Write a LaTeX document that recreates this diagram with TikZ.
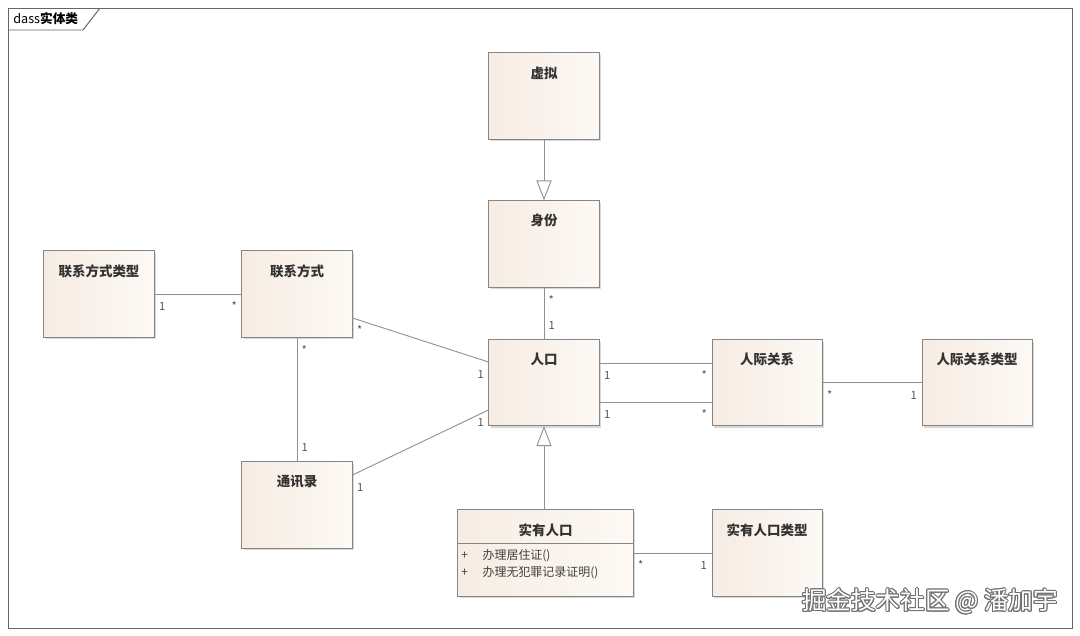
\documentclass[tikz,border=0pt]{standalone}
\usepackage{fontspec}
\setmainfont{Noto Sans CJK SC}
\usepackage{xcolor}
\usepackage{contour}
\usepackage{tikz}
\usetikzlibrary{positioning}
\usetikzlibrary{calc,arrows.meta,shadows}
\definecolor{clsline}{HTML}{858585}
\definecolor{boxL}{HTML}{F6ECE3}
\definecolor{boxR}{HTML}{FDF9F5}
\definecolor{multc}{HTML}{555555}
\contourlength{0.7pt}
\tikzset{
  cls_title/.style = {anchor=center, yshift=-14.5pt, font=\fontsize{9.6}{11}\selectfont\bfseries,
    text=black!80},
  cls/.style = {rectangle, draw=clsline, line width=0.7pt, left color=boxL, right color=boxR,
    minimum width=2.75cm, minimum height=2.15cm, inner sep=0pt,
    drop shadow={shadow xshift=1.5pt, shadow yshift=-1.5pt, fill=black!30},
    label={[cls_title]north:#1}},% boite de classe
  mult/.style = {font=\fontsize{8}{9}\selectfont, text=multc, inner xsep=3pt, inner ysep=2.5pt,
    text height=9pt, text depth=4pt},% multiplicite
  conn/.style = {draw=clsline!90, line width=0.65pt},
  gen/.style = {conn, -{Triangle[open, length=0.5cm, width=0.375cm, fill=white]}}% heritage
}

\begin{document}
\begin{tikzpicture}[x=0.025cm, y=-0.025cm]
\fill[white] (0,0) rectangle (1080,636);
\useasboundingbox (0,0) rectangle (1080,636);
% cadre du diagramme
\draw[black!60, line width=0.7pt] (8,8) rectangle (1072,628);
\draw[black!60, line width=0.7pt] (8,30) -- (83,30) -- (100,8);
\node[anchor=west, font=\fontsize{9}{11}\selectfont, inner sep=0pt] (frame_title) at (13,19)
  {dass\textbf{实体类}};
% classes
\node[cls=虚拟] (xn) at (544,96) {};
\node[cls=身份] (sf) at (544,244) {};
\node[cls=联系方式类型] (lxlx) at (99,294) {};
\node[cls=联系方式] (lxfs) at (297,294) {};
\node[cls=人口] (rk) at (544,382.5) {};
\node[cls=人际关系] (rjgx) at (767,382.5) {};
\node[cls=人际关系类型] (gxlx) at (977,382.5) {};
\node[cls=通讯录] (txl) at (297,505) {};
\node[cls=实有人口, minimum width=4.375cm] (syrk) at (545.5,553) {};
\node[cls=实有人口类型] (sylx) at (767,553) {};
\draw[clsline, line width=0.7pt] ($(syrk.north west)+(0,34)$) -- ($(syrk.north east)+(0,34)$);
\node[anchor=base west, inner sep=0pt, font=\fontsize{8.5}{12}\selectfont, text=black!75] (syrk_ops)
  at (461,559.5) {\begin{tabular}[t]{@{}l@{\hspace{10.5pt}}l@{}}
    + & 办理居住证() \\
    + & 办理无犯罪记录证明()
  \end{tabular}};
% heritage
\draw[gen] (xn.south) -- (sf.north);
\draw[gen] (syrk.north -| rk.south) -- (rk.south);
% associations
\draw[conn] (sf.south) -- node[mult, at start, below right] (m1) {*}
  node[mult, at end, above right] (m2) {1} (rk.north);
\draw[conn] (lxlx.east) -- node[mult, at start, below right] (m3) {1}
  node[mult, at end, below left] (m4) {*} (lxfs.west);
\draw[conn] ($(lxfs.east)+(0,24)$) -- node[mult, at start, below right] (m5) {*}
  node[mult, at end, below left] (m6) {1} ($(rk.west)+(0,-20.5)$);
\draw[conn] (lxfs.south) -- node[mult, at start, below right] (m7) {*}
  node[mult, at end, above right] (m8) {1} (txl.north);
\draw[conn] ($(txl.east)+(0,-30)$) -- node[mult, at start, below right] (m9) {1}
  node[mult, at end, below left] (m10) {1} ($(rk.west)+(0,27.5)$);
\draw[conn] ($(rk.east)+(0,-19.5)$) -- node[mult, at start, below right] (m11) {1}
  node[mult, at end, below left] (m12) {*} ($(rjgx.west)+(0,-19.5)$);
\draw[conn] ($(rk.east)+(0,19.5)$) -- node[mult, at start, below right] (m13) {1}
  node[mult, at end, below left] (m14) {*} ($(rjgx.west)+(0,19.5)$);
\draw[conn] (rjgx.east) -- node[mult, at start, below right] (m15) {*}
  node[mult, at end, below left] (m16) {1} (gxlx.west);
\draw[conn] (syrk.east) -- node[mult, at start, below right] (m17) {*}
  node[mult, at end, below left] (m18) {1} (sylx.west);
% filigrane
\node[font=\fontsize{17.5}{20}\selectfont, inner sep=0pt] (wm) at (930,602)
  {\contour{black!55}{\textcolor{white}{掘金技术社区 @ 潘加宇}}};
\end{tikzpicture}
\end{document}
